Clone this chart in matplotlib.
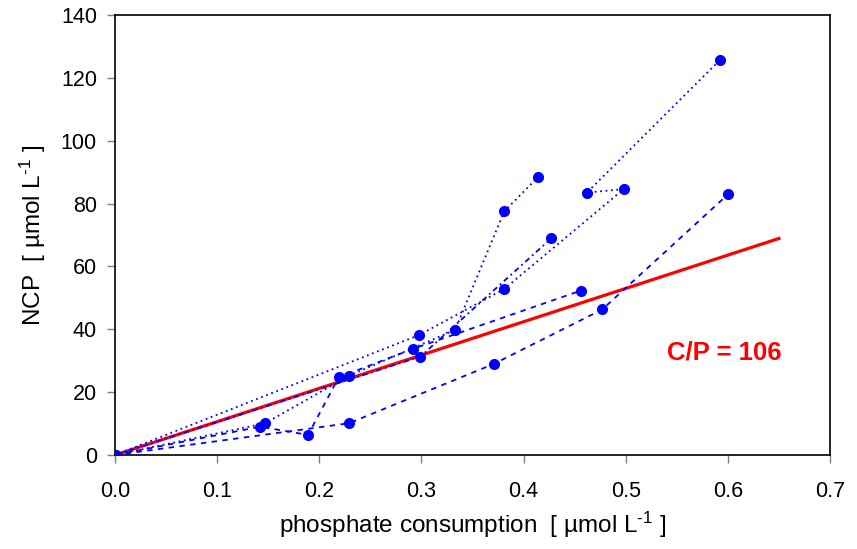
import matplotlib
matplotlib.use("Agg")
import matplotlib.pyplot as plt
import numpy as np

plt.rcParams['font.family'] = ['Liberation Sans', 'DejaVu Sans']
plt.rcParams['mathtext.fontset'] = 'custom'
plt.rcParams['mathtext.rm'] = 'Liberation Sans'
plt.rcParams['mathtext.default'] = 'regular'

# Series of (phosphate consumption, NCP), each starting at the origin
s1_x = [0.0, 0.142, 0.189, 0.219, 0.292, 0.456]
s1_y = [0.0, 9.0, 6.4, 24.7, 33.8, 52.3]
s2_x = [0.0, 0.147, 0.229, 0.333, 0.381, 0.414]
s2_y = [0.0, 10.1, 25.2, 39.8, 77.5, 88.4]
s3_x = [0.0, 0.229, 0.371, 0.477, 0.600]
s3_y = [0.0, 10.1, 29.0, 46.3, 82.9]
s4_x = [0.0, 0.298, 0.381, 0.498, 0.462, 0.592]
s4_y = [0.0, 38.2, 52.8, 84.6, 83.5, 125.6]
s5_x = [0.0, 0.299, 0.427]
s5_y = [0.0, 31.3, 68.9]

series = [(s1_x, s1_y), (s2_x, s2_y), (s3_x, s3_y), (s4_x, s4_y), (s5_x, s5_y)]
styles = [(0, (3, 3)), (0, (1, 2)), (0, (3, 3)), (0, (1, 2)), (0, (3, 2, 1, 2))]

# Redfield-type ratio line
cp_ratio = 106
line_x = [0.0, 0.65]

fig = plt.figure(figsize=(8.57, 5.49), dpi=100)
ax = fig.add_axes([115/857, 1-455/549, (830-115)/857, (455-15)/549])

for (xs, ys), ls in zip(series, styles):
    ax.plot(xs, ys, color='#0000FF', linestyle=ls, linewidth=1.3,
            marker='o', markersize=8, markeredgewidth=0, zorder=3)

lx = np.array(line_x)
ax.plot(lx, cp_ratio * lx, color='#FF0000', linewidth=2.3, zorder=2)

ax.text(0.54, 32.5, 'C/P = 106', color='#FF0000', fontsize=18.5,
        fontweight='bold', ha='left', va='center')

ax.set_xlim(0, 0.7)
ax.set_ylim(0, 140)
ax.set_xticks(np.arange(0, 0.71, 0.1))
ax.set_xticklabels(['0.0', '0.1', '0.2', '0.3', '0.4', '0.5', '0.6', '0.7'])
ax.set_yticks(np.arange(0, 141, 20))
ax.tick_params(axis='both', direction='out', length=6, width=1, color='#808080',
               labelsize=15.5)
ax.tick_params(axis='x', pad=13)
ax.tick_params(axis='y', pad=7)
for sp in ax.spines.values():
    sp.set_linewidth(1.2)

ax.set_xlabel('phosphate consumption  [ µmol L$^{\\text{-1}}$ ]', fontsize=17.5, labelpad=5)
ax.set_ylabel('NCP  [ µmol L$^{\\text{-1}}$ ]', fontsize=17.5, labelpad=9)

fig.savefig('out.png', dpi=100)
